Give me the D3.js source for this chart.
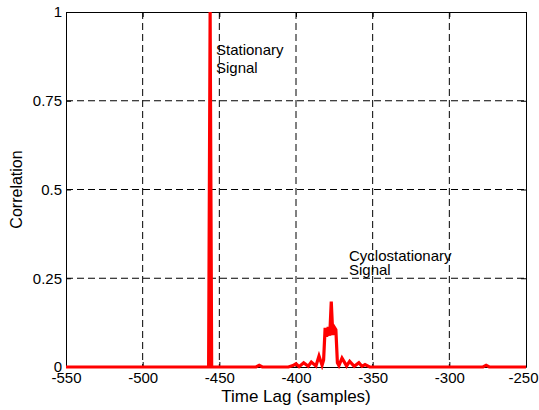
<!DOCTYPE html>
<html>
<head>
<meta charset="utf-8">
<script src="https://cdn.jsdelivr.net/npm/d3@7"></script>
<style>
  body { margin: 0; background: #fff; }
  text { font-family: "Liberation Sans", Arial, sans-serif; fill: #000; }
</style>
</head>
<body>
<div id="chart"></div>
<script>
// data: time lag (samples) and correlation, sparse points
const lags = [
  -550, -457, -456, -455, -426, -424, -422, -405,
  -402, -400, -398, -395, -392, -390, -387, -385, -383, -382,
  -381, -380, -379, -378, -377, -376, -375, -374, -373,
  -372, -370, -367, -365, -362, -359, -357, -355, -352,
  -278, -276, -274, -250
];
const corr = [
  0, 0, 1, 0, 0, 0.005, 0, 0,
  0.004, 0.009, 0.001, 0.012, 0.002, 0.014, 0.003, 0.031, 0.005, 0.02,
  0.11, 0.085, 0.113, 0.088, 0.184, 0.09, 0.112, 0.105, 0.012,
  0.004, 0.025, 0.003, 0.016, 0.002, 0.012, 0.002, 0.007, 0,
  0, 0.005, 0, 0
];
const xTicks = [-550, -500, -450, -400, -350, -300, -250];
const yTicks = [0, 0.25, 0.5, 0.75, 1];
const yTickLabels = ["0", "0.25", "0.5", "0.75", "1"];

// plot design
const FRAME_WIDTH = 539;
const FRAME_HEIGHT = 410;
const MARGINS = {left: 66, right: 13, top: 12, bottom: 43};
const VIS_WIDTH = FRAME_WIDTH - MARGINS.left - MARGINS.right;
const VIS_HEIGHT = FRAME_HEIGHT - MARGINS.top - MARGINS.bottom;

const xScale = d3.scaleLinear()
                 .domain([-550, -250])
                 .range([0, VIS_WIDTH]);

const yScale = d3.scaleLinear()
                 .domain([0, 1])
                 .range([VIS_HEIGHT, 0]);

const svg = d3.select("#chart")
              .append("svg")
                .attr("width", FRAME_WIDTH)
                .attr("height", FRAME_HEIGHT);

svg.append("defs").append("clipPath")
     .attr("id", "clip")
   .append("rect")
     .attr("x", 0).attr("y", -1)
     .attr("width", VIS_WIDTH).attr("height", VIS_HEIGHT + 4);

const plot = svg.append("g")
                .attr("transform", "translate(" + MARGINS.left + "," + MARGINS.top + ")");

// dashed grid
plot.append("g")
    .selectAll("line")
    .data(xTicks.slice(1, -1))
    .join("line")
      .attr("x1", d => xScale(d)).attr("x2", d => xScale(d))
      .attr("y1", 0).attr("y2", VIS_HEIGHT)
      .attr("stroke", "#000")
      .attr("stroke-width", 1)
      .attr("stroke-dasharray", "7,4");

plot.append("g")
    .selectAll("line")
    .data(yTicks.slice(1, -1))
    .join("line")
      .attr("x1", 0).attr("x2", VIS_WIDTH)
      .attr("y1", d => yScale(d)).attr("y2", d => yScale(d))
      .attr("stroke", "#000")
      .attr("stroke-width", 1)
      .attr("stroke-dasharray", "7,4");

// box axes with inward ticks
const axisStyle = g => {
  g.select(".domain").attr("stroke", "#000").attr("stroke-width", 1);
  g.selectAll(".tick line").attr("stroke", "#000");
};

plot.append("g")
    .attr("transform", "translate(0," + VIS_HEIGHT + ")")
    .call(d3.axisBottom(xScale).tickValues(xTicks).tickFormat(d => String(d))
            .tickSizeInner(-5).tickSizeOuter(0).tickPadding(5))
    .call(axisStyle)
    .call(g => g.selectAll("text").attr("font-size", "15px")
                .attr("font-family", "Liberation Sans, Arial, sans-serif"))
    // keep the last label inside the frame
    .call(g => g.selectAll(".tick text").filter(d => d === -250).attr("dx", -3));

plot.append("g")
    .call(d3.axisLeft(yScale).tickValues(yTicks).tickFormat((d, i) => yTickLabels[i])
            .tickSizeInner(-5).tickSizeOuter(0).tickPadding(4))
    .call(axisStyle)
    .call(g => g.selectAll("text").attr("font-size", "15px")
                .attr("font-family", "Liberation Sans, Arial, sans-serif"));

plot.append("g")
    .call(d3.axisTop(xScale).tickValues(xTicks).tickSizeInner(-5).tickSizeOuter(0).tickFormat(""))
    .call(axisStyle);

plot.append("g")
    .attr("transform", "translate(" + VIS_WIDTH + ",0)")
    .call(d3.axisRight(yScale).tickValues(yTicks).tickSizeInner(-5).tickSizeOuter(0).tickFormat(""))
    .call(axisStyle);

// correlation line
plot.append("path")
    .datum(lags.map((d, i) => [d, corr[i]]))
    .attr("clip-path", "url(#clip)")
    .attr("d", d3.line()
        .x(d => xScale(d[0]))
        .y(d => yScale(d[1])))
    .attr("fill", "none")
    .attr("stroke", "#ff0000")
    .attr("stroke-width", 3.2)
    .attr("stroke-linejoin", "miter");

// annotations
plot.append("text").attr("x", 150).attr("y", 43).attr("font-size", "15px").text("Stationary");
plot.append("text").attr("x", 150).attr("y", 60.5).attr("font-size", "15px").text("Signal");
plot.append("text").attr("x", 283).attr("y", 248.5).attr("font-size", "15px").text("Cyclostationary");
plot.append("text").attr("x", 283).attr("y", 263).attr("font-size", "15px").text("Signal");

// axis titles
svg.append("text")
   .attr("x", MARGINS.left + VIS_WIDTH / 2)
   .attr("y", 402)
   .attr("text-anchor", "middle")
   .attr("font-size", "17px")
   .text("Time Lag (samples)");

svg.append("text")
   .attr("transform", "translate(22," + (MARGINS.top + VIS_HEIGHT / 2) + ") rotate(-90)")
   .attr("text-anchor", "middle")
   .attr("font-size", "16px")
   .text("Correlation");
</script>
</body>
</html>
